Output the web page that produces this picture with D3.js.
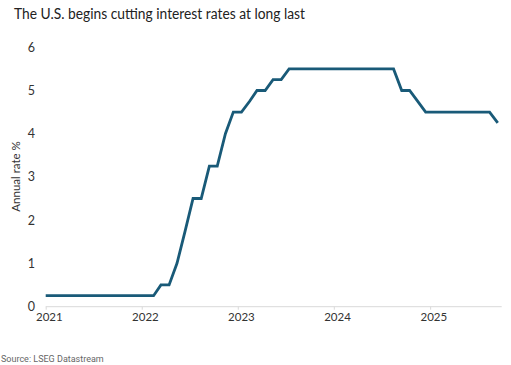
<!DOCTYPE html>
<html>
<head>
<meta charset="utf-8">
<script src="https://cdn.jsdelivr.net/npm/d3@7"></script>
<style>
  html, body { margin: 0; padding: 0; background: #fff; }
  svg { display: block; }
</style>
</head>
<body>
<svg id="chart" width="511" height="365"></svg>
<script>
// ---- Data ----
const title = "The U.S. begins cutting interest rates at long last";
const yAxisLabel = "Annual rate %";
const sourceText = "Source: LSEG Datastream";

// Observation dates (series start, then monthly observations mid-month)
const dates = [
  "2021-01-01",
  "2021-01-15","2021-02-15","2021-03-15","2021-04-15","2021-05-15","2021-06-15",
  "2021-07-15","2021-08-15","2021-09-15","2021-10-15","2021-11-15","2021-12-15",
  "2022-01-15","2022-02-15","2022-03-15","2022-04-15","2022-05-15","2022-06-15",
  "2022-07-15","2022-08-15","2022-09-15","2022-10-15","2022-11-15","2022-12-15",
  "2023-01-15","2023-02-15","2023-03-15","2023-04-15","2023-05-15","2023-06-15",
  "2023-07-15","2023-08-15","2023-09-15","2023-10-15","2023-11-15","2023-12-15",
  "2024-01-15","2024-02-15","2024-03-15","2024-04-15","2024-05-15","2024-06-15",
  "2024-07-15","2024-08-15","2024-09-15","2024-10-15","2024-11-15","2024-12-15",
  "2025-01-15","2025-02-15","2025-03-15","2025-04-15","2025-05-15","2025-06-15",
  "2025-07-15","2025-08-15","2025-09-15"
];
// Annual rate % (Fed funds target, upper bound)
const rates = [
  0.25,
  0.25,0.25,0.25,0.25,0.25,0.25,0.25,0.25,0.25,0.25,0.25,0.25,
  0.25,0.25,0.50,0.50,1.00,1.75,2.50,2.50,3.25,3.25,4.00,4.50,
  4.50,4.75,5.00,5.00,5.25,5.25,5.50,5.50,5.50,5.50,5.50,5.50,
  5.50,5.50,5.50,5.50,5.50,5.50,5.50,5.50,5.00,5.00,4.75,4.50,
  4.50,4.50,4.50,4.50,4.50,4.50,4.50,4.50,4.25
];
const yTicks = [0, 1, 2, 3, 4, 5, 6];
const xTickYears = ["2021", "2022", "2023", "2024", "2025"];
const xDomain = ["2021-01-01", "2025-09-30"];

// ---- Chart ----
const parse = d3.timeParse("%Y-%m-%d");
const data = dates.map((d, i) => ({ date: parse(d), value: rates[i] }));

const svg = d3.select("#chart");
const x = d3.scaleTime().domain(xDomain.map(parse)).range([45.7, 501.7]);
const y = d3.scaleLinear().domain([0, 6]).range([306.5, 47.3]);

// Title
svg.append("text")
  .attr("x", 14).attr("y", 19)
  .attr("font-family", "Lato, 'Noto Sans', sans-serif")
  .attr("font-size", 14.6)
  .attr("textLength", 291)
  .attr("lengthAdjust", "spacingAndGlyphs")
  .attr("fill", "#222")
  .text(title);

// Y axis tick labels (no line)
const yAxis = d3.axisLeft(y).tickValues(yTicks).tickSize(0).tickPadding(0).tickFormat(d3.format("d"));
const gy = svg.append("g").attr("transform", "translate(35,0)").call(yAxis);
gy.select(".domain").remove();
gy.selectAll("text")
  .attr("font-family", "Lato, 'Noto Sans', sans-serif")
  .attr("font-size", 12.5)
  .attr("fill", "#333");

// Y axis title
svg.append("text")
  .attr("transform", "translate(20,176.5) rotate(-90)")
  .attr("text-anchor", "middle")
  .attr("font-family", "Lato, 'Noto Sans', sans-serif")
  .attr("font-size", 11.5)
  .attr("fill", "#333")
  .text(yAxisLabel);

// X axis: baseline with year ticks
const yearStarts = xTickYears.map(yr => parse(yr + "-01-01"));
const xAxis = d3.axisBottom(x).tickValues(yearStarts).tickSize(3).tickFormat("");
const gx = svg.append("g").attr("transform", "translate(0,306.7)").call(xAxis);
gx.select(".domain").attr("stroke", "#d9d9d9").attr("stroke-width", 1)
  .attr("d", `M${x.range()[0]},0H${x.range()[1]}`);
gx.selectAll(".tick line").attr("stroke", "#d9d9d9");

// X tick labels, centred on mid-January of each year
svg.append("g").selectAll("text")
  .data(xTickYears)
  .join("text")
  .attr("x", d => x(parse(d + "-01-15")))
  .attr("y", 320.5)
  .attr("text-anchor", "middle")
  .attr("font-family", "Lato, 'Noto Sans', sans-serif")
  .attr("font-size", 11.5)
  .attr("fill", "#333")
  .text(d => d);

// Line
const line = d3.line().x(d => x(d.date)).y(d => y(d.value));
svg.append("path")
  .datum(data)
  .attr("fill", "none")
  .attr("stroke", "#195a78")
  .attr("stroke-width", 2.8)
  .attr("stroke-linejoin", "miter")
  .attr("d", line);

// Source
svg.append("text")
  .attr("x", 1).attr("y", 361.5)
  .attr("font-family", "Roboto, sans-serif")
  .attr("font-size", 9)
  .attr("fill", "#666")
  .text(sourceText);
</script>
</body>
</html>
